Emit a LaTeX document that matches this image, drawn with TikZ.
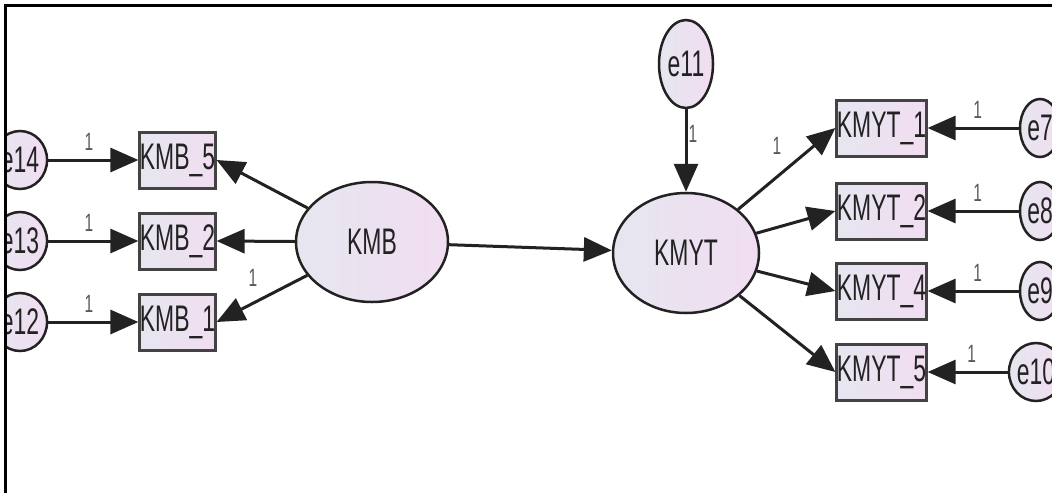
\documentclass[tikz,border=0pt]{standalone}
\usepackage{fontspec}
\setmainfont{Liberation Sans}[FakeStretch=0.62]
\usetikzlibrary{shapes.geometric,arrows.meta}
\definecolor{fillL}{HTML}{E6E6F0}
\definecolor{fillR}{HTML}{F1DDF1}
\definecolor{ink}{HTML}{222222}
\begin{document}
\begin{tikzpicture}[x=1pt,y=-1pt,
  txt/.style={font=\fontsize{37}{37}\selectfont, text=ink},
  latent/.style={ellipse, draw=ink, line width=2.5pt, left color=fillL, right color=fillR,
    inner sep=0pt, txt},
  err/.style={latent, minimum width=40pt, minimum height=58pt},
  obs/.style={rectangle, draw=ink!85, line width=3pt, left color=fillL, right color=fillR,
    inner sep=0pt, minimum height=56pt, txt},
  arr/.style={draw=ink, line width=3pt, -{Triangle[length=28pt,width=24pt]}},
  lab/.style={font=\fontsize{25}{25}\selectfont, text=ink!75, inner sep=1pt}]
\useasboundingbox (0,0) rectangle (1052,493);
\fill[white] (0,0) rectangle (1052,493);
\begin{scope}
\clip (7,7) rectangle (1052,493);
% latent variables
\node[latent, minimum width=152pt, minimum height=120pt] (KMB) at (372,242) {KMB};
\node[latent, minimum width=146pt, minimum height=120pt] (KMYT) at (686,253) {KMYT};
\node[latent, minimum width=54pt, minimum height=88pt] (e11) at (686,64) {e11};
% indicators of KMB
\node[obs, minimum width=75pt] (B5) at (177.5,160) {KMB\_5};
\node[obs, minimum width=75pt] (B2) at (177.5,241) {KMB\_2};
\node[obs, minimum width=75pt] (B1) at (177.5,322) {KMB\_1};
\node[err] (e14) at (20,160) {e14};
\node[err] (e13) at (20,241) {e13};
\node[err] (e12) at (20,322) {e12};
% indicators of KMYT
\node[obs, minimum width=77pt] (Y1) at (881.5,128) {KMYT\_1};
\node[obs, minimum width=77pt] (Y2) at (881.5,211) {KMYT\_2};
\node[obs, minimum width=77pt] (Y4) at (881.5,291) {KMYT\_4};
\node[obs, minimum width=77pt] (Y5) at (881.5,372) {KMYT\_5};
\node[err] (e7) at (1040,128) {e7};
\node[err] (e8) at (1040,211) {e8};
\node[err] (e9) at (1040,291) {e9};
\node[err, xshift=-4pt] (e10) at (1040,372) {e10};
% paths
\draw[arr] (e14) -- node[lab, pos=0.45, above=7pt] {1} (B5);
\draw[arr] (e13) -- node[lab, pos=0.45, above=7pt] {1} (B2);
\draw[arr] (e12) -- node[lab, pos=0.45, above=7pt] {1} (B1);
\draw[arr] (KMB) -- (B5.east);
\draw[arr] (KMB) -- (B2.east);
\draw[arr] (KMB) -- node[lab, pos=0.6, above=14pt] {1} (B1.east);
\draw[arr] (KMB) -- (KMYT);
\draw[arr] (e11) -- node[lab, pos=0.3, right=0pt] {1} (KMYT);
\draw[arr] (KMYT) -- node[lab, pos=0.55, above left=8pt] {1} (Y1.west);
\draw[arr] (KMYT) -- (Y2.west);
\draw[arr] (KMYT) -- (Y4.west);
\draw[arr] (KMYT) -- (Y5.west);
\draw[arr] (e7) -- node[lab, pos=0.45, above=7pt] {1} (Y1);
\draw[arr] (e8) -- node[lab, pos=0.45, above=7pt] {1} (Y2);
\draw[arr] (e9) -- node[lab, pos=0.45, above=7pt] {1} (Y4);
\draw[arr] (e10) -- node[lab, pos=0.45, above=7pt] {1} (Y5);
\end{scope}
% frame
\draw[line width=3pt, black] (5,493) -- (5,5) -- (1052,5);
\end{tikzpicture}
\end{document}
